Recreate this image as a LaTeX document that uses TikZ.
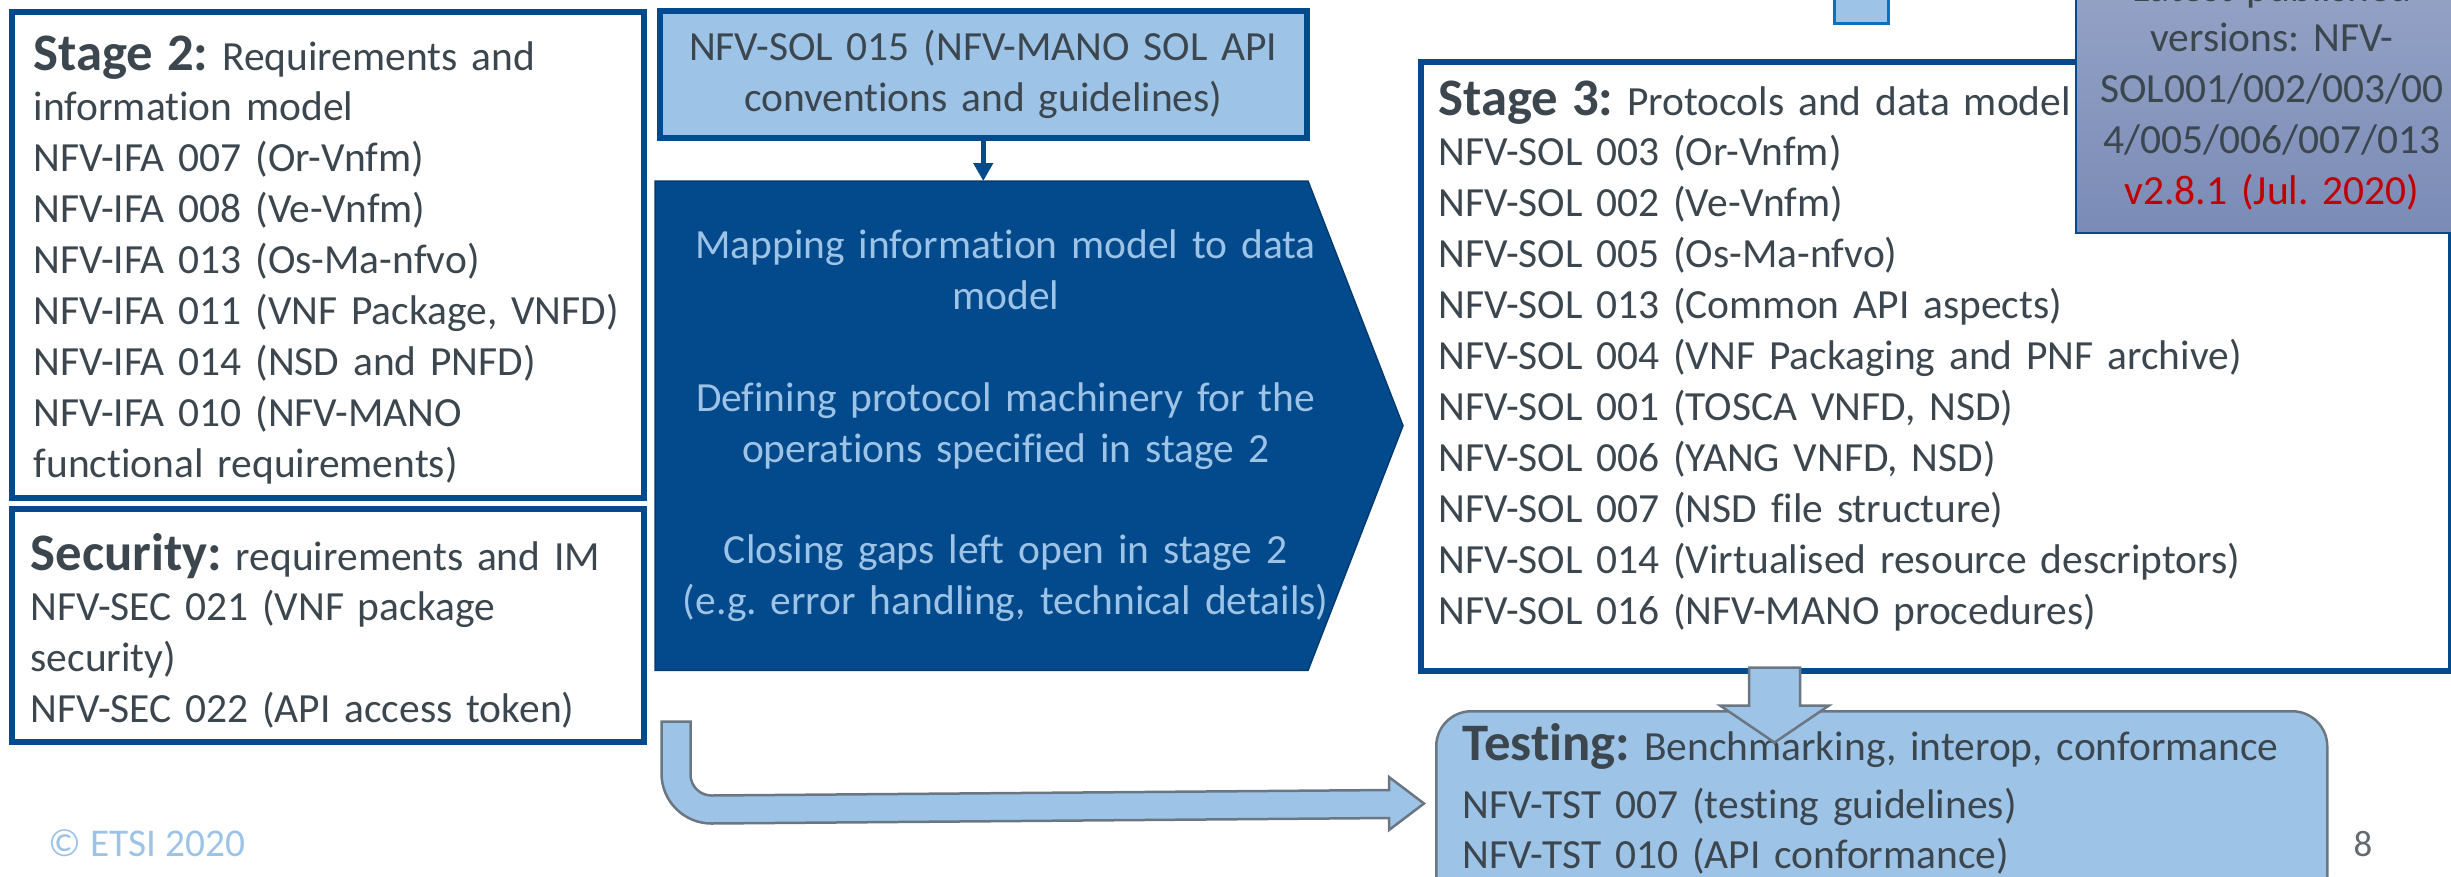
\documentclass[tikz,border=0pt]{standalone}
\usepackage{fontspec}
\setmainfont{Carlito}[Ligatures=NoCommon]
\usepackage{tikz}
\usetikzlibrary{positioning, calc, arrows.meta, backgrounds}
\definecolor{etsiblue}{HTML}{024A8C}
\definecolor{etsilight}{HTML}{9DC3E6}
\definecolor{etsitext}{HTML}{3C464E}
\definecolor{etsigrey}{HTML}{6A7783}
\definecolor{etsired}{HTML}{C00000}
\definecolor{versiontop}{HTML}{9AA7C9}
\definecolor{versionbot}{HTML}{7A8BB6}
\definecolor{stubblue}{HTML}{0A72C2}
\newcommand{\bodyfont}{\fontsize{11.8}{14.5}\selectfont\frenchspacing}
\newcommand{\headfont}{\fontsize{15}{14.5}\selectfont\bfseries}

\begin{document}
\begin{tikzpicture}[x=0.1mm, y=-0.1mm,
  panel/.style={draw=etsiblue, line width=0.55mm, anchor=north west, inner sep=0pt},
  paneltext/.style={anchor=base west, inner sep=0pt, text=etsitext, font=\bodyfont, text width=#1, align=left},
  paneltext/.default=61mm,
  blockarrow/.style={fill=etsilight, draw=etsigrey, line width=0.25mm, line join=miter}]
  \useasboundingbox (0,0) rectangle (2451,876);
  \clip (0,0) rectangle (2451,876);

  \node[panel, minimum width=63.2mm, minimum height=48.6mm] (stagetwo) at (9,9) {};
  \node[paneltext] (stagetwotxt) at ($(stagetwo.north west)+(24,61)$) {{\headfont Stage 2:} Requirements and\\
    information model\\
    NFV-IFA 007 (Or-Vnfm)\\
    NFV-IFA 008 (Ve-Vnfm)\\
    NFV-IFA 013 (Os-Ma-nfvo)\\
    NFV-IFA 011 (VNF Package, VNFD)\\
    NFV-IFA 014 (NSD and PNFD)\\
    NFV-IFA 010 (NFV-MANO\\
    functional requirements)};

  \node[panel, minimum width=63.2mm, minimum height=23.3mm] (security) at (9,506) {};
  \node[paneltext] (securitytxt) at ($(security.north west)+(21,64)$) {{\headfont Security:} requirements and IM\\
    NFV-SEC 021 (VNF package\\
    security)\\
    NFV-SEC 022 (API access token)};

  \node[panel, fill=etsilight, minimum width=64.7mm, minimum height=12.7mm, text width=64.7mm, align=center, font=\bodyfont, text=etsitext] (solapi) at (657,8) {NFV-SOL 015 (NFV-MANO SOL API\\ conventions and guidelines)};

  \node[anchor=north west, inner sep=0pt, minimum height=48.8mm, text width=70mm, align=center, font=\bodyfont, text=etsilight] (mapping) at (655,181) {Mapping information model to data\\ model\\[14.5pt]
    Defining protocol machinery for the\\ operations specified in stage 2\\[14.5pt]
    Closing gaps left open in stage 2\\ (e.g. error handling, technical details)};
  \begin{scope}[on background layer]
    \filldraw[fill=etsiblue, draw=etsiblue!80!black, line width=0.15mm] (mapping.north west) -- ++(653,0) -- ($(mapping.west)+(748,0)$) -- ($(mapping.south west)+(653,0)$) -- (mapping.south west) -- cycle;
  \end{scope}
  \draw[etsiblue, line width=0.45mm, -{Triangle[length=1.8mm, width=1.9mm]}] (solapi.south) -- (solapi.south |- mapping.north);

  \node[panel, minimum width=103mm, minimum height=60.9mm] (stagethree) at (1418,59) {};
  \node[paneltext=100mm] (stagethreetxt) at ($(stagethree.north west)+(20,56)$) {{\headfont Stage 3:} Protocols and data model\\
    NFV-SOL 003 (Or-Vnfm)\\
    NFV-SOL 002 (Ve-Vnfm)\\
    NFV-SOL 005 (Os-Ma-nfvo)\\
    NFV-SOL 013 (Common API aspects)\\
    NFV-SOL 004 (VNF Packaging and PNF archive)\\
    NFV-SOL 001 (TOSCA VNFD, NSD)\\
    NFV-SOL 006 (YANG VNFD, NSD)\\
    NFV-SOL 007 (NSD file structure)\\
    NFV-SOL 014 (Virtualised resource descriptors)\\
    NFV-SOL 016 (NFV-MANO procedures)};

  \node[anchor=north west, inner sep=0pt, draw=etsiblue, line width=0.2mm, top color=versiontop, bottom color=versionbot, minimum width=40mm, minimum height=30.2mm] (versions) at (2075,-70) {};
  \node[anchor=base, inner sep=0pt, text width=38mm, align=center, font=\bodyfont, text=etsitext] (versionstxt) at (2272,1) {Latest published\\ versions: NFV-\\ SOL001/002/003/00\\ 4/005/006/007/013\\ \textcolor{etsired}{v2.8.1 (Jul. 2020)}};

  \node[anchor=north west, inner sep=0pt, fill=etsilight, draw=stubblue, line width=0.3mm, minimum width=5.4mm, minimum height=4.2mm] (stub) at (1833,-20) {};

  \node[panel, draw=etsigrey, line width=0.25mm, fill=etsilight, rounded corners=3.5mm, minimum width=89.1mm, minimum height=20mm] (testing) at (1435,710) {};
  \node[paneltext=86mm] (testingtxt) at ($(testing.north west)+(27,50)$) {{\headfont Testing:} Benchmarking, interop, conformance\\[2pt]
    NFV-TST 007 (testing guidelines)\\
    NFV-TST 010 (API conformance)};

  \coordinate (downstart) at ($(stagethree.south west)+(331,-6)$);
  \draw[blockarrow] (downstart) -- ++(51,0) -- ++(0,38) -- ++(29,0) -- ++(-54.5,37) -- ++(-54.5,-37) -- ++(29,0) -- cycle;

  \coordinate (bendstart) at ($(security.south east)+(15,-23)$);
  \coordinate (bendtip) at ($(testing.north west)+(-11,93.5)$);
  \draw[blockarrow] (bendstart) -- ++(29,0) -- ++(0,53) arc[start angle=180, end angle=270, radius=2.1mm] -- ($(bendtip)+(-35,-13.5)$) -- ++(0,-13) -- (bendtip) -- ++(-35,26.5) -- ++(0,-12) -- ($(bendstart)+(50,102)$) arc[start angle=270, end angle=180, radius=5mm] -- cycle;

  \node[anchor=base west, inner sep=0pt, font=\fontsize{11.2}{12}\selectfont, text=etsilight] (copyright) at (48,856) {© ETSI 2020};
  \node[anchor=base, inner sep=0pt, font=\fontsize{10.5}{12}\selectfont, text=etsitext!80] (pagenum) at (2363,856) {8};
\end{tikzpicture}
\end{document}
